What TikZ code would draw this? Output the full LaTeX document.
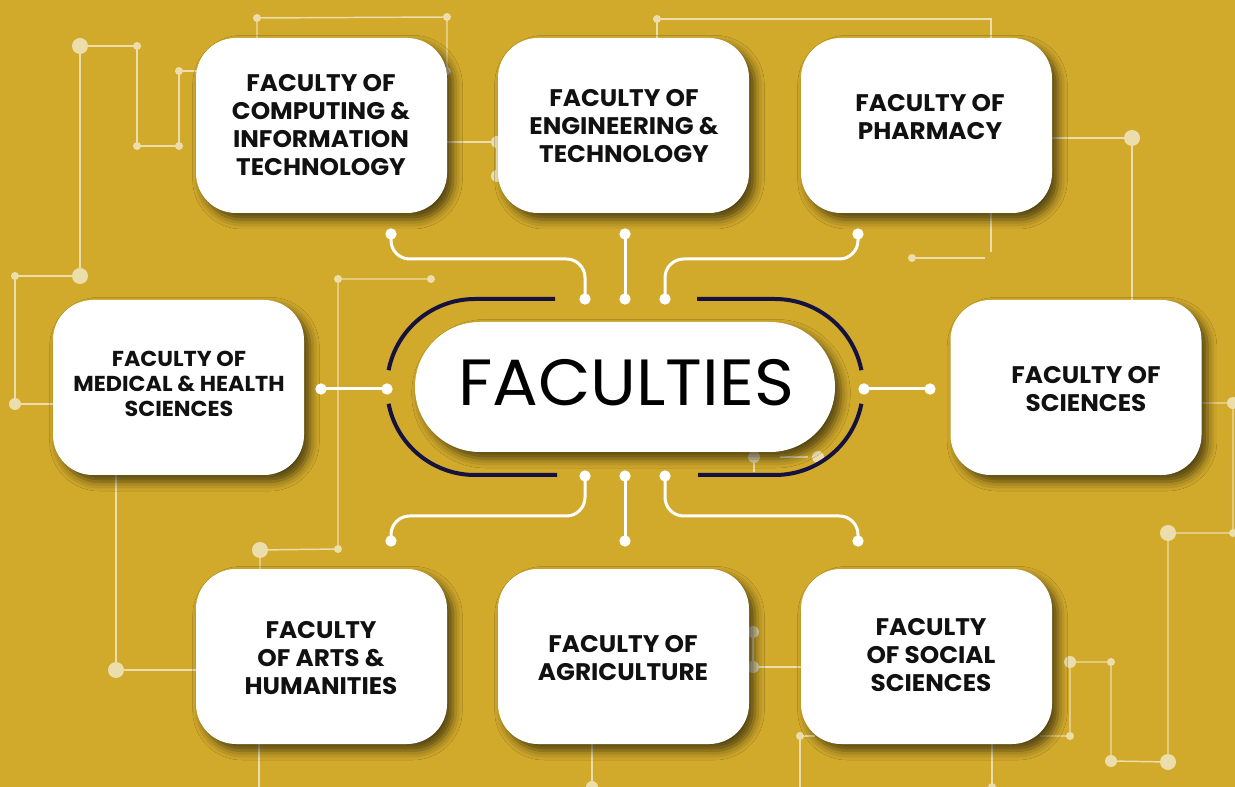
\documentclass[tikz,border=0pt]{standalone}
\usepackage{fontspec}
\setmainfont{Poppins}
\newfontfamily\boxfont{Poppins}[FakeStretch=1.03]
\newfontfamily\titlefont{Poppins}[FakeStretch=1.04]
\usetikzlibrary{shadows.blur}
\definecolor{bg}{RGB}{210,170,43}
\definecolor{navy}{RGB}{22,18,64}
\definecolor{trace}{RGB}{236,222,172}
\definecolor{ink}{RGB}{17,17,17}
\begin{document}
\begin{tikzpicture}[x=0.75pt,y=-0.75pt,
 facbox/.style={draw=none, fill=white, rounded corners=30pt, minimum width=188.25pt, minimum height=131.25pt, inner sep=0pt,
   blur shadow={shadow xshift=4.5pt,shadow yshift=-5pt,shadow blur radius=7pt,shadow opacity=62}},
 pill/.style={draw=none, fill=white, rounded corners=48.7pt, minimum width=315pt, minimum height=97.5pt, inner sep=0pt,
   blur shadow={shadow xshift=4.5pt,shadow yshift=-5pt,shadow blur radius=7pt,shadow opacity=62}},
 factext/.style={align=center, font=\boxfont\bfseries\fontsize{18}{21}\selectfont, text=ink, inner sep=0pt},
 factextsm/.style={factext, font=\boxfont\bfseries\fontsize{16.2}{19}\selectfont},
 conn/.style={draw=white, line width=2.25pt, rounded corners=14pt},
 wdot/.style={circle, fill=white, inner sep=0pt, minimum size=8.5pt},
 tr/.style={draw=trace, line width=1.1pt},
 tdot/.style={circle, fill=trace, inner sep=0pt, minimum size=6pt},
 tdotm/.style={tdot, minimum size=9pt},
 tdotb/.style={tdot, minimum size=12pt},
 bracket/.style={draw=navy, line width=3pt},
]
\useasboundingbox (0,0) rectangle (1235,787);
\clip (0,0) rectangle (1235,787);
\fill[bg] (0,0) rectangle (1235,787);

% ---------- background traces ----------
\node[tdotb] (p1) at (80,46) {};
\node[tdot] (p2) at (137,46) {};
\node[tdot] (p3) at (137,146) {};
\node[tdot] (p4) at (179,146) {};
\node[tdot] (p5) at (179,71) {};
\coordinate (e5) at (205,71);
\draw[tr] (p1.center)--(p2.center)--(p3.center)--(p4.center)--(p5.center)--(e5);
\node[tdotb] (p6) at (80,276) {};
\node[tdot] (p7) at (15,276) {};
\node[tdotm] (p8) at (15,404) {};
\coordinate (e8) at (65,404);
\draw[tr] (p1.center)--(p6.center)--(p7.center)--(p8.center)--(e8);
\node[tdot] (p9) at (257,18) {};
\node[tdot] (p10) at (447,17) {};
\node[tdot] (p11) at (447,71) {};
\coordinate (e9) at (257,50);
\draw[tr] (e9)--(p9.center)--(p10.center)--(p11.center);
\node[tdotm] (p12) at (497,142) {};
\node[tdotm] (p13) at (497,176) {};
\coordinate (e12) at (440,142);
\draw[tr] (e12)--(p12.center)--(p13.center);
\node[tdot] (p14) at (338,279) {};
\node[tdot] (p15) at (431,279) {};
\node[tdot] (p16) at (338,549) {};
\node[tdotb] (p17) at (260,550) {};
\coordinate (e17) at (260,580);
\draw[tr] (p15.center)--(p14.center)--(p16.center)--(p17.center)--(e17);
\coordinate (e18) at (116,465);
\node[tdotb] (p18) at (116,670) {};
\coordinate (e19) at (205,670);
\draw[tr] (e18)--(p18.center)--(e19);
\coordinate (e20) at (259,735);
\coordinate (e21) at (259,787);
\draw[tr] (e20)--(e21);
\node[tdot] (p19) at (657,19) {};
\coordinate (e22) at (657,50);
\coordinate (e23) at (991,19);
\coordinate (e24) at (991,50);
\draw[tr] (e22)--(p19.center)--(e23)--(e24);
\coordinate (e25) at (991,200);
\coordinate (e26) at (991,252);
\coordinate (e27) at (985,258);
\node[tdot] (p20) at (912,258) {};
\draw[tr] (e25)--(e26);
\draw[tr] (e27)--(p20.center);
\coordinate (e28) at (1040,138);
\node[tdotb] (p21) at (1132,138) {};
\coordinate (e29) at (1132,310);
\draw[tr] (e28)--(p21.center)--(e29);
\coordinate (e30) at (1190,403);
\node[tdotm] (p22) at (1233,403) {};
\node[tdot] (p23) at (1233,533) {};
\node[tdotb] (p24) at (1168,533) {};
\node[tdotb] (p25) at (1168,762) {};
\node[tdotm] (p26) at (1111,761) {};
\node[tdot] (p27) at (1111,662) {};
\node[tdotm] (p28) at (1070,662) {};
\node[tdot] (p29) at (1070,736) {};
\coordinate (e31) at (1040,736);
\draw[tr] (e30)--(p22.center)--(p23.center)--(p24.center)--(p25.center)--(p26.center)--(p27.center)--(p28.center)--(p29.center)--(e31);
\coordinate (e32) at (992,735);
\node[tdot] (p30) at (992,787) {};
\draw[tr] (e32)--(p30.center);
\node[tdot] (p31) at (800,736) {};
\coordinate (e33) at (815,736);
\coordinate (e34) at (800,787);
\draw[tr] (e33)--(p31.center)--(e34);
\node[tdotm] (p32) at (753,632) {};
\node[tdotm] (p33) at (753,667) {};
\coordinate (e35) at (815,667);
\draw[tr] (p32.center)--(p33.center)--(e35);
\coordinate (e36) at (592,735);
\node[tdotm] (p34) at (592,787) {};
\draw[tr] (e36)--(p34.center);
\node[tdotm] (p35) at (754,457) {};
\coordinate (e37) at (754,472);
\draw[tr] (p35.center)--(e37);
\node[tdotm] (p36) at (818,457) {};
\coordinate (e38) at (780,457);
\coordinate (e39) at (808,457);
\draw[tr] (e38)--(e39);

% ---------- faculty boxes ----------
\node[facbox] (comp)  at (321.5,125.5) {};
\node[facbox] (eng)   at (623.5,125.5) {};
\node[facbox] (pharm) at (926.5,125.5) {};
\node[facbox] (med)   at (178.5,387.5) {};
\node[facbox] (sci)   at (1076,387.5) {};
\node[facbox] (arts)  at (321.5,656.5) {};
\node[facbox] (agri)  at (623.5,656.5) {};
\node[facbox] (soc)   at (926.5,656.5) {};

\node[factext] (compT)  at (321,125) {FACULTY OF\\COMPUTING \&\\INFORMATION\\TECHNOLOGY};
\node[factext] (engT)   at (624,126) {FACULTY OF\\ENGINEERING \&\\TECHNOLOGY};
\node[factext] (pharmT) at (930,117) {FACULTY OF\\PHARMACY};
\node[factextsm] (medT) at (179,384) {FACULTY OF\\MEDICAL \& HEALTH\\SCIENCES};
\node[factext] (sciT)   at (1086,389) {FACULTY OF\\SCIENCES};
\node[factext] (artsT)  at (321,658) {FACULTY\\OF ARTS \&\\HUMANITIES};
\node[factext] (agriT)  at (623,658) {FACULTY OF\\AGRICULTURE};
\node[factext] (socT)   at (931,655) {FACULTY\\OF SOCIAL\\SCIENCES};

% ---------- centre ----------
\node[pill] (fac) at (625,387) {};
\node[font=\titlefont\fontsize{49}{49}\selectfont, text=black, inner sep=0pt] (facT) at (626,383) {FACULTIES};

\draw[bracket] (555,299) -- (475,299) arc[start angle=-90, end angle=-169, radius=88];
\draw[bracket] (557,475) -- (475,475) arc[start angle=90, end angle=169, radius=88];
\draw[bracket] (697,299) -- (775,299) arc[start angle=-90, end angle=-11, radius=88];
\draw[bracket] (698,475) -- (775,475) arc[start angle=90, end angle=11, radius=88];

% ---------- connectors ----------
\node[wdot] (c1) at (391,234) {};
\node[wdot] (c2) at (585,299) {};
\node[wdot] (c3) at (625,234) {};
\node[wdot] (c4) at (625,299) {};
\node[wdot] (c5) at (858,234) {};
\node[wdot] (c6) at (665,299) {};
\node[wdot] (c7) at (585,476) {};
\node[wdot] (c8) at (391,541) {};
\node[wdot] (c9) at (625,476) {};
\node[wdot] (c10) at (625,541) {};
\node[wdot] (c11) at (665,476) {};
\node[wdot] (c12) at (858,541) {};
\node[wdot] (c13) at (321,389) {};
\node[wdot] (c14) at (387,389) {};
\node[wdot] (c15) at (864,389) {};
\node[wdot] (c16) at (930,389) {};

\draw[conn] (c1.center) -- (391,259) -- (585,259) -- (c2.center);
\draw[conn] (c3.center) -- (c4.center);
\draw[conn] (c5.center) -- (858,259) -- (665,259) -- (c6.center);
\draw[conn] (c7.center) -- (585,516) -- (391,516) -- (c8.center);
\draw[conn] (c9.center) -- (c10.center);
\draw[conn] (c11.center) -- (665,516) -- (858,516) -- (c12.center);
\draw[conn] (c13.center) -- (c14.center);
\draw[conn] (c15.center) -- (c16.center);
\end{tikzpicture}
\end{document}
